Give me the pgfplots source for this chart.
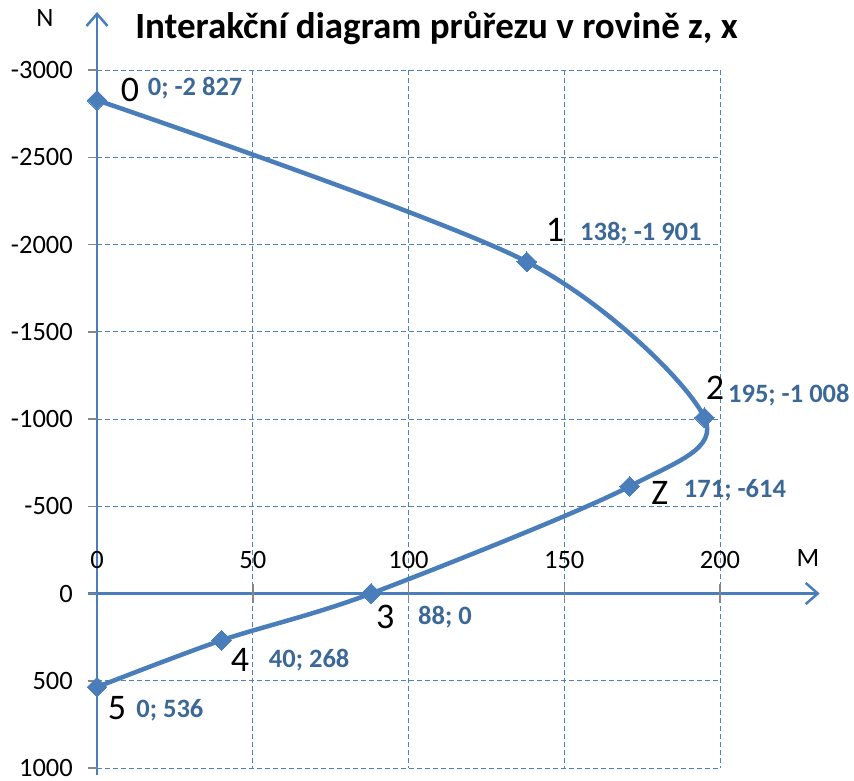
\documentclass[border=0pt]{standalone}
\usepackage{pgfplots}
\pgfplotsset{compat=1.18}
\usepackage{fontspec}
\setmainfont{Carlito}
\usetikzlibrary{arrows.meta}
\definecolor{serie}{RGB}{74,126,187}
\definecolor{mrizka}{RGB}{79,129,189}
\definecolor{popis}{RGB}{60,104,152}
\definecolor{carka}{RGB}{134,134,134}
\begin{document}
\begin{tikzpicture}[x=1pt,y=1pt]
\useasboundingbox (-97,-12) rectangle (757,768);
\begin{axis}[
  at={(0,0)}, anchor=south west,
  scale only axis, width=623pt, height=698pt,
  xmin=0, xmax=200, ymin=-3000, ymax=1000,
  y dir=reverse,
  clip=false,
  axis line style={draw=none},
  xtick={0,50,100,150,200},
  xticklabel style={text opacity=0, font=\tiny},
  ytick={-3000,-2500,-2000,-1500,-1000,-500,0,500,1000},
  yticklabels={-3000,-2500,-2000,-1500,-1000,-500,0,500,1000},
  yticklabel style={font=\fontsize{26.5}{30}\selectfont, anchor=east, inner sep=0pt, xshift=-24pt},
  major tick length=0pt,
  grid=major,
  grid style={mrizka, line width=1pt, dash pattern=on 5pt off 3pt},
]
% osy se šipkami
\draw[serie, line width=2.5pt, -{Straight Barb[length=12pt,width=21pt,line width=2.5pt]}]
  (axis cs:0,1040) -- (axis cs:0,-3332);
\draw[serie, line width=2.5pt, -{Straight Barb[length=12pt,width=21pt,line width=2.5pt]}]
  (axis cs:-3,0) -- (axis cs:232,0);
% značky na osách
\pgfplotsinvokeforeach{-3000,-2500,-2000,-1500,-1000,-500,0,500,1000}{
  \draw[carka, line width=1.5pt] (axis cs:-3,#1) -- (axis cs:0,#1);
}
\pgfplotsinvokeforeach{50,100,150,200}{
  \draw[carka, line width=1.5pt] (axis cs:#1,-54) -- (axis cs:#1,54);
}
% popisy vodorovné osy
\pgfplotsinvokeforeach{0,50,100,150,200}{
  \node[font=\fontsize{26.5}{30}\selectfont] at (axis cs:#1,-192) {#1};
}
\node[font=\fontsize{26.5}{30}\selectfont] at (axis cs:228.2,-203) {M};
\node[font=\fontsize{26.5}{30}\selectfont] at (axis cs:-16.7,-3298) {N};
\node[font=\fontsize{37}{42}\selectfont\bfseries] at (axis cs:109,-3241)
  {Interakční diagram průřezu v rovině z, x};

% interakční křivka
\addplot[serie, line width=4.5pt, smooth, mark=square*,
  mark size=7pt, mark options={solid, rotate=45, fill=serie, line width=0pt}]
  coordinates {(0,-2827) (138,-1901) (195,-1008) (171,-614) (88,0) (40,268) (0,536)};

% čísla bodů
\begin{scope}[every node/.style={font=\fontsize{36}{40}\selectfont, text=black}]
\node at (axis cs:10.6,-2885) {0};
\node at (axis cs:147,-2083) {1};
\node at (axis cs:198.4,-1178) {2};
\node at (axis cs:180.7,-576) {Z};
\node at (axis cs:92.5,135) {3};
\node at (axis cs:45.9,381) {4};
\node at (axis cs:6.4,656) {5};
\end{scope}
% hodnoty M; N
\begin{scope}[every node/.style={font=\fontsize{26.5}{30}\selectfont\bfseries, text=popis}]
\node at (axis cs:31.5,-2897) {0; -2 827};
\node at (axis cs:174.6,-2066) {138; -1 901};
\node at (axis cs:222.1,-1138) {195; -1 008};
\node at (axis cs:204.8,-593) {171; -614};
\node at (axis cs:111.7,137) {88; 0};
\node at (axis cs:68.1,381) {40; 268};
\node at (axis cs:23.4,668) {0; 536};
\end{scope}
\end{axis}
\end{tikzpicture}
\end{document}
